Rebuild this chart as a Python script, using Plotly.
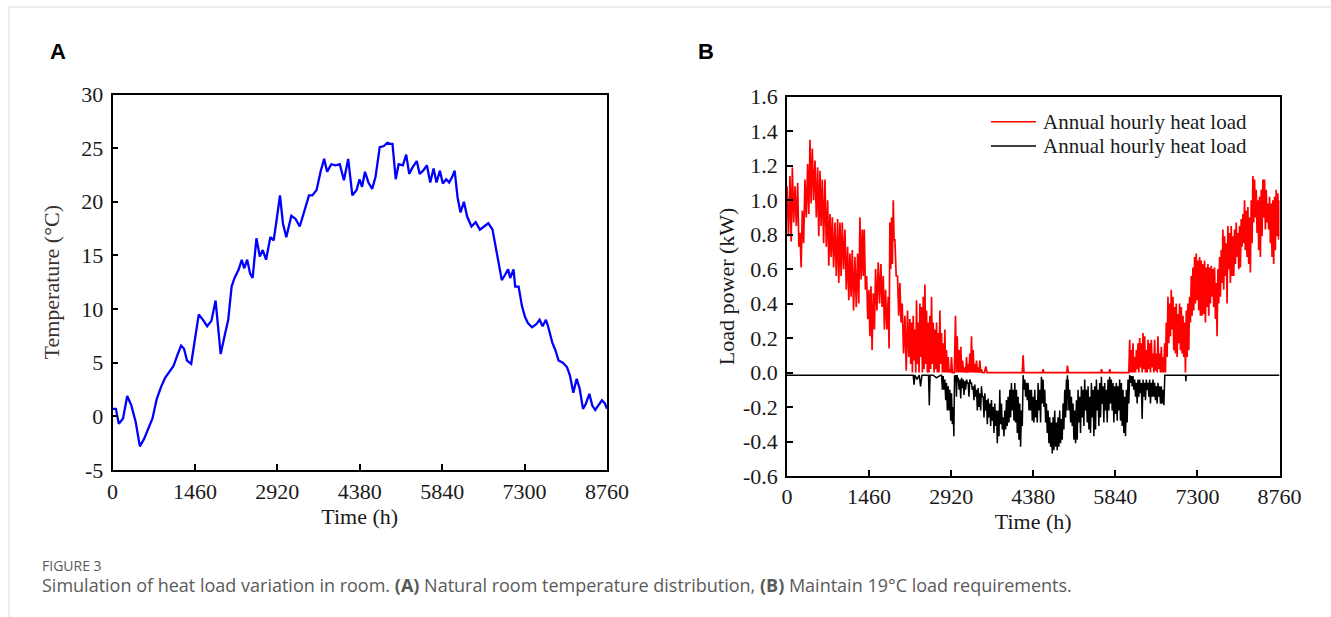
import plotly.graph_objects as go

W, H = 1331, 617

# ---------------- data: panel A (natural room temperature, °C) ----------------
time_ticks = [0, 1460, 2920, 4380, 5840, 7300, 8760]

temp_t = [0, 60, 112, 186, 261, 335, 410, 485, 559, 634,
          708, 783, 857, 932, 1006, 1081, 1156, 1215, 1267, 1320,
          1394, 1454, 1528, 1603, 1677, 1752, 1826, 1864, 1916, 1990,
          2050, 2110, 2162, 2237, 2289, 2333, 2386, 2438, 2482, 2550,
          2609, 2661, 2721, 2796, 2855, 2907, 2967, 3019, 3079, 3168,
          3243, 3317, 3392, 3481, 3541, 3615, 3690, 3750, 3802, 3877,
          3951, 4026, 4100, 4175, 4249, 4324, 4376, 4421, 4473, 4533,
          4600, 4659, 4734, 4808, 4868, 4920, 4960, 5017, 5069, 5144,
          5203, 5256, 5315, 5390, 5442, 5502, 5569, 5629, 5688, 5740,
          5800, 5852, 5912, 5964, 6016, 6061, 6113, 6165, 6225, 6284,
          6359, 6434, 6508, 6583, 6657, 6732, 6784, 6836, 6896, 6955,
          7008, 7045, 7104, 7134, 7194, 7253, 7305, 7358, 7432, 7507,
          7566, 7619, 7678, 7716, 7790, 7850, 7902, 7977, 8051, 8104,
          8163, 8223, 8275, 8335, 8387, 8447, 8499, 8551, 8611, 8670,
          8723, 8760]
temp_v = [0.7, 0.7, -0.7, -0.2, 1.9, 1.0, -0.5, -2.8, -2.1, -1.1,
          -0.2, 1.6, 2.7, 3.6, 4.1, 4.7, 5.8, 6.6, 6.3, 5.2,
          4.9, 6.9, 9.5, 9.0, 8.4, 8.9, 10.8, 8.7, 5.8, 7.6,
          9.0, 12.1, 12.9, 13.7, 14.6, 13.8, 14.6, 13.3, 12.9, 16.6,
          14.9, 15.5, 14.6, 16.7, 16.4, 18.3, 20.6, 18.0, 16.7, 18.7,
          18.4, 17.7, 19.0, 20.6, 20.6, 21.1, 22.9, 24.0, 22.8, 23.5,
          23.4, 23.5, 22.0, 24.0, 20.6, 21.1, 22.1, 21.4, 22.8, 21.8,
          21.2, 22.3, 25.1, 25.2, 25.5, 25.4, 25.4, 22.1, 23.5, 23.4,
          24.4, 22.6, 23.2, 23.8, 22.6, 22.9, 23.4, 21.8, 23.1, 21.8,
          22.9, 21.7, 22.1, 21.8, 22.3, 22.9, 20.4, 19.0, 20.0, 18.6,
          17.7, 18.1, 17.4, 17.7, 18.0, 17.4, 15.8, 14.3, 12.7, 13.2,
          13.7, 12.9, 13.7, 12.1, 12.1, 10.3, 9.3, 8.7, 8.3, 8.6,
          9.0, 8.4, 9.0, 8.4, 6.9, 6.1, 5.2, 5.0, 4.6, 3.8,
          2.2, 3.5, 2.6, 0.7, 1.2, 2.1, 1.0, 0.6, 1.0, 1.5,
          1.2, 0.7]

# ---------------- data: panel B (heating load, kW) — peak / trough of the hourly swing ----------------
red_t = [0, 53, 95, 142, 190, 231, 272, 320, 367, 409,
         450, 498, 545, 586, 628, 675, 723, 764, 806, 853,
         900, 942, 983, 1031, 1078, 1120, 1161, 1208, 1256, 1297,
         1339, 1374, 1416, 1457, 1493, 1534, 1576, 1623, 1670, 1712,
         1753, 1801, 1830, 1860, 1890, 1919, 1966, 2008, 2049, 2097,
         2144, 2186,
         2216, 2245, 2275, 2304, 2334, 2364, 2393, 2423, 2453, 2482,
         2512, 2541, 2571, 2601, 2630, 2660, 2689, 2719, 2749, 2778,
         2808, 2837, 2867, 2897, 2926, 2956, 2997, 3027, 3063, 3092,
         3122, 3163, 3193, 3222, 3252, 3282, 3311, 3341, 3371, 3400,
         3430, 3459, 3489, 3536,
         3580, 4170, 4200, 4230, 4540, 4555, 4570, 4970, 4987, 5005,
         5575, 5592, 5610, 5725, 5740, 5755, 6065,
         6095, 6125, 6154, 6184, 6214, 6243, 6273, 6302, 6332, 6362,
         6391, 6421, 6450, 6480, 6510, 6539, 6569, 6598, 6628, 6658,
         6687, 6717, 6746, 6776, 6806, 6835, 6865, 6895, 6924, 6954,
         6983, 7013, 7043, 7072, 7102, 7131, 7161, 7191, 7220, 7250,
         7279, 7309, 7339, 7368, 7398, 7428, 7457, 7487, 7516, 7546,
         7576, 7605, 7635, 7665, 7694, 7724, 7753, 7783, 7813, 7842,
         7872, 7901, 7931, 7961, 7990, 8020, 8050, 8079, 8109, 8138,
         8168, 8198, 8227, 8257, 8287, 8316, 8346, 8376, 8405, 8435,
         8464, 8494, 8524, 8553, 8583, 8613, 8642, 8672, 8701, 8731,
         8760]
red_hi = [1.08, 1.14, 1.19, 1.08, 1.10, 0.81, 0.94, 1.12, 1.21, 1.35,
          1.30, 1.23, 1.19, 1.17, 1.12, 1.12, 1.00, 0.92, 0.90, 0.87,
          0.89, 0.87, 0.87, 0.83, 0.73, 0.69, 0.71, 0.67, 0.69, 0.90,
          0.83, 0.83, 0.56, 0.48, 0.50, 0.46, 0.60, 0.64, 0.63, 0.56,
          0.48, 0.44, 0.87, 0.90, 1.00, 0.77, 0.56, 0.52, 0.40, 0.33,
          0.36, 0.31,
          0.29, 0.33, 0.25, 0.42, 0.29, 0.40, 0.38, 0.44, 0.51, 0.36,
          0.29, 0.33, 0.44, 0.29, 0.25, 0.29, 0.23, 0.36, 0.23, 0.17,
          0.25, 0.13, 0.09, 0.02, 0.09, 0.0, 0.33, 0.21, 0.13, 0.15,
          0.07, 0.03, 0.09, 0.05, 0.11, 0.21, 0.13, 0.05, 0.07, 0.03,
          0.07, 0.02, 0.0, 0.035,
          0, 0, 0.10, 0, 0, 0.02, 0, 0, 0.04, 0,
          0, 0.02, 0, 0, 0.02, 0, 0,
          0.19, 0.13, 0.17, 0.09, 0.13, 0.17, 0.20, 0.17, 0.23, 0.21,
          0.13, 0.19, 0.17, 0.19, 0.11, 0.19, 0.11, 0.21, 0.11, 0.15,
          0.09, 0.17, 0.29, 0.44, 0.40, 0.48, 0.44, 0.38, 0.40, 0.34,
          0.40, 0.38, 0.33, 0.29, 0.36, 0.40, 0.44, 0.56, 0.61, 0.67,
          0.69, 0.65, 0.67, 0.65, 0.63, 0.65, 0.61, 0.63, 0.61, 0.62,
          0.60, 0.61, 0.52, 0.60, 0.67, 0.71, 0.83, 0.79, 0.75, 0.85,
          0.81, 0.85, 0.79, 0.83, 0.87, 0.81, 0.85, 0.89, 0.92, 1.00,
          0.94, 0.96, 0.90, 1.00, 1.14, 1.12, 1.06, 1.00, 1.02, 1.06,
          1.12, 1.12, 1.06, 0.98, 1.02, 0.98, 1.00, 1.02, 1.06, 1.04,
          1.00]
red_lo = [0.79, 0.76, 0.87, 0.85, 0.73, 0.61, 0.75, 0.90, 0.92, 0.98,
          1.00, 0.90, 0.79, 0.85, 0.75, 0.73, 0.62, 0.67, 0.61, 0.56,
          0.52, 0.56, 0.60, 0.48, 0.42, 0.44, 0.36, 0.38, 0.40, 0.54,
          0.56, 0.48, 0.31, 0.21, 0.13, 0.25, 0.36, 0.40, 0.38, 0.25,
          0.25, 0.14, 0.60, 0.63, 0.77, 0.56, 0.33, 0.29, 0.11, 0.01,
          0.09, 0.05,
          0, 0.07, 0, 0.05, 0, 0.09, 0, 0.02, 0.05, 0,
          0, 0.02, 0.05, 0, 0.02, 0, 0, 0.05, 0, 0,
          0, 0, 0, 0, 0, 0, 0, 0, 0, 0,
          0, 0, 0, 0, 0, 0, 0, 0, 0, 0,
          0, 0, 0, 0,
          0, 0, 0, 0, 0, 0, 0, 0, 0, 0,
          0, 0, 0, 0, 0, 0, 0,
          0, 0, 0, 0, 0.02, 0, 0.03, 0, 0.02, 0,
          0, 0.02, 0, 0.03, 0, 0.01, 0, 0.02, 0, 0,
          0, 0, 0.09, 0.17, 0.21, 0.25, 0.13, 0.11, 0.09, 0.17,
          0.13, 0.11, 0.09, 0.0, 0.09, 0.13, 0.29, 0.33, 0.36, 0.40,
          0.42, 0.36, 0.33, 0.33, 0.34, 0.29, 0.38, 0.33, 0.40, 0.44,
          0.38, 0.31, 0.21, 0.40, 0.44, 0.52, 0.48, 0.56, 0.40, 0.60,
          0.52, 0.56, 0.56, 0.63, 0.67, 0.60, 0.61, 0.73, 0.75, 0.71,
          0.67, 0.63, 0.58, 0.75, 0.87, 0.90, 0.81, 0.71, 0.67, 0.79,
          0.90, 0.83, 0.87, 0.83, 0.75, 0.67, 0.63, 0.71, 0.79, 0.77,
          0.79]

# cooling side (black): upper (closest to zero) and lower extreme of the hourly swing
blk_t = [0, 2200, 2245, 2275, 2352, 2400, 2490, 2517, 2545, 2600,
         2720, 2749, 2778, 2808, 2837, 2867, 2897, 2926, 2956, 2980,
         3003, 3025, 3045, 3075, 3105, 3134, 3163, 3193, 3222, 3252,
         3282, 3311, 3341, 3371, 3400, 3430, 3459, 3489, 3519, 3548,
         3578, 3608, 3637, 3667, 3696, 3726, 3756, 3785, 3815, 3844,
         3874, 3903, 3933, 3963, 3992, 4022, 4052, 4081, 4111, 4140,
         4170, 4200, 4230, 4259, 4289, 4318, 4348, 4378, 4407, 4437,
         4466, 4496, 4525, 4555, 4585, 4614, 4644, 4673, 4703, 4733,
         4762, 4792, 4821, 4851, 4881, 4910, 4940, 4970, 4987, 5000,
         5029, 5059, 5088, 5118, 5148, 5177, 5207, 5236, 5266, 5295,
         5325, 5355, 5384, 5414, 5444, 5473, 5503, 5532, 5562, 5592,
         5621, 5651, 5681, 5710, 5740, 5769, 5799, 5829, 5858, 5888,
         5917, 5947, 5977, 6006, 6036, 6065, 6095, 6125, 6154, 6184,
         6214, 6243, 6273, 6302, 6332, 6362, 6391, 6421, 6450, 6480,
         6510, 6539, 6569, 6598, 6628, 6658, 6687, 6720, 7080, 7090,
         7100, 8760]
blk_hi = [-0.015, -0.015, -0.015, -0.015, -0.015, -0.015, -0.015, -0.015, -0.015, -0.015,
          -0.015, -0.015, -0.02, -0.04, -0.06, -0.08, -0.10, -0.12, -0.20, -0.015,
          -0.015, -0.015, -0.03, -0.04, -0.03, -0.04, -0.05, -0.04, -0.06, -0.04,
          -0.06, -0.08, -0.07, -0.10, -0.09, -0.12, -0.08, -0.14, -0.12, -0.16,
          -0.15, -0.18, -0.16, -0.20, -0.18, -0.22, -0.22, -0.10, -0.18, -0.26,
          -0.22, -0.16, -0.14, -0.10, -0.06, -0.10, -0.06, -0.10, -0.14, -0.18,
          -0.22, -0.015, -0.04, -0.06, -0.06, -0.10, -0.10, -0.14, -0.10, -0.16,
          -0.06, -0.10, -0.025, -0.04, -0.10, -0.18, -0.22, -0.26, -0.29, -0.26,
          -0.22, -0.29, -0.26, -0.22, -0.27, -0.18, -0.10, -0.04, -0.015, -0.04,
          -0.10, -0.14, -0.18, -0.22, -0.16, -0.10, -0.14, -0.08, -0.10, -0.04,
          -0.10, -0.08, -0.14, -0.06, -0.10, -0.08, -0.04, -0.10, -0.06, -0.025,
          -0.08, -0.06, -0.10, -0.04, -0.025, -0.04, -0.06, -0.08, -0.06, -0.08,
          -0.04, -0.06, -0.10, -0.14, -0.10, -0.04, -0.015, -0.02, -0.02, -0.04,
          -0.06, -0.04, -0.04, -0.06, -0.04, -0.06, -0.04, -0.06, -0.04, -0.06,
          -0.04, -0.06, -0.08, -0.06, -0.08, -0.08, -0.10, -0.015, -0.015, -0.015,
          -0.015, -0.015]
blk_lo = [-0.015, -0.015, -0.07, -0.04, -0.08, -0.015, -0.015, -0.19, -0.015, -0.03,
          -0.015, -0.10, -0.10, -0.16, -0.22, -0.22, -0.28, -0.30, -0.37, -0.04,
          -0.14, -0.04, -0.10, -0.15, -0.09, -0.13, -0.10, -0.06, -0.14, -0.06,
          -0.10, -0.16, -0.14, -0.22, -0.20, -0.22, -0.14, -0.26, -0.22, -0.30,
          -0.26, -0.31, -0.28, -0.35, -0.31, -0.41, -0.37, -0.30, -0.33, -0.37,
          -0.33, -0.31, -0.29, -0.26, -0.22, -0.28, -0.29, -0.35, -0.39, -0.43,
          -0.31, -0.10, -0.14, -0.16, -0.22, -0.22, -0.28, -0.29, -0.26, -0.29,
          -0.22, -0.29, -0.18, -0.20, -0.29, -0.35, -0.41, -0.43, -0.47, -0.45,
          -0.43, -0.45, -0.43, -0.41, -0.39, -0.33, -0.26, -0.22, -0.14, -0.22,
          -0.29, -0.31, -0.39, -0.41, -0.39, -0.29, -0.35, -0.26, -0.31, -0.22,
          -0.29, -0.33, -0.35, -0.26, -0.37, -0.33, -0.22, -0.31, -0.26, -0.18,
          -0.29, -0.22, -0.29, -0.22, -0.18, -0.22, -0.29, -0.24, -0.28, -0.22,
          -0.28, -0.31, -0.35, -0.37, -0.29, -0.18, -0.06, -0.08, -0.10, -0.14,
          -0.18, -0.14, -0.12, -0.27, -0.14, -0.16, -0.10, -0.14, -0.18, -0.14,
          -0.14, -0.16, -0.18, -0.14, -0.18, -0.18, -0.19, -0.015, -0.015, -0.05,
          -0.015, -0.015]

load_ticks = [-0.6, -0.4, -0.2, 0.0, 0.2, 0.4, 0.6, 0.8, 1.0, 1.2, 1.4, 1.6]
load_tick_text = ["-0.6", "-0.4", "-0.2", "0.0", "0.2", "0.4", "0.6", "0.8", "1.0", "1.2", "1.4", "1.6"]
temp_ticks = [-5, 0, 5, 10, 15, 20, 25, 30]
temp_tick_text = ["-5", "0", "5", "10", "15", "20", "25", "30"]

legend_names = ["Annual hourly heat load", "Annual hourly heat load"]

assert len(temp_t) == len(temp_v)
assert len(red_t) == len(red_hi) == len(red_lo)
assert len(blk_t) == len(blk_hi) == len(blk_lo)


def swing(t, hi, lo):
    """Trace the hourly swing: peak at each reading, trough half-way to the next."""
    xs, ys = [], []
    for i in range(len(t)):
        xs.append(t[i]); ys.append(hi[i])
        nxt = t[i + 1] if i + 1 < len(t) else t[i]
        xs.append((t[i] + nxt) / 2); ys.append(lo[i])
    return xs, ys


SERIF = "Liberation Serif"
TXT = "#1a1a1a"

fig = go.Figure()
fig.add_trace(go.Scatter(x=temp_t, y=temp_v, mode="lines", name="Temperature",
                         line=dict(color="#0000ff", width=2.3), xaxis="x", yaxis="y",
                         showlegend=False))
rx, ry = swing(red_t, red_hi, red_lo)
fig.add_trace(go.Scatter(x=rx, y=ry, mode="lines", name=legend_names[0],
                         line=dict(color="#ff0000", width=1.7), xaxis="x2", yaxis="y2",
                         showlegend=False))
bx, by = swing(blk_t, blk_hi, blk_lo)
fig.add_trace(go.Scatter(x=bx, y=by, mode="lines", name=legend_names[1],
                         line=dict(color="#000000", width=1.5), xaxis="x2", yaxis="y2",
                         showlegend=False))

axis_common = dict(showline=True, mirror=True, linecolor="#000000", linewidth=1.5,
                   ticks="inside", ticklen=6, tickwidth=1.5, tickcolor="#000000",
                   showgrid=False, zeroline=False,
                   tickfont=dict(family=SERIF, size=22, color=TXT))

A_L, A_R, A_T, A_B = 112.5, 607, 94.5, 470
B_L, B_R, B_T, B_B = 787, 1279.5, 96.7, 476

fig.update_layout(
    width=W, height=H, template="none",
    paper_bgcolor="white", plot_bgcolor="white",
    margin=dict(l=0, r=0, t=0, b=0),
    showlegend=False,
    xaxis=dict(axis_common, domain=[A_L / W, A_R / W], range=[0, 8760],
               tickvals=time_ticks, ticklabelstandoff=1, anchor="y",
               title=dict(text="Time (h)", font=dict(family=SERIF, size=22, color=TXT), standoff=4)),
    yaxis=dict(axis_common, domain=[1 - A_B / H, 1 - A_T / H], range=[-5, 30],
               tickvals=temp_ticks, ticktext=temp_tick_text, ticklabelstandoff=3, anchor="x",
               title=dict(text="Temperature (°C)", font=dict(family=SERIF, size=22, color="#3a3030"), standoff=16)),
    xaxis2=dict(axis_common, domain=[B_L / W, B_R / W], range=[0, 8760],
                tickvals=time_ticks, ticklabelstandoff=0, anchor="y2",
                title=dict(text="Time (h)", font=dict(family=SERIF, size=22, color=TXT), standoff=2)),
    yaxis2=dict(axis_common, domain=[1 - B_B / H, 1 - B_T / H], range=[-0.6, 1.6],
                tickvals=load_ticks, ticktext=load_tick_text, ticklabelstandoff=3, anchor="x2",
                title=dict(text="Load power (kW)", font=dict(family=SERIF, size=22, color=TXT), standoff=2)),
)

# manual legend inside panel B
leg_rows = [(121.7, "#ff0000"), (146.0, "#000000")]
for (yy, col), name in zip(leg_rows, legend_names):
    fig.add_shape(type="line", xref="paper", yref="paper",
                  x0=991 / W, x1=1036 / W, y0=1 - yy / H, y1=1 - yy / H,
                  line=dict(color=col, width=1.5))
    fig.add_annotation(x=1041 / W, y=1 - yy / H, xref="paper", yref="paper",
                       text=name, showarrow=False, xanchor="left", yanchor="middle",
                       font=dict(family=SERIF, size=21, color=TXT))

# panel letters
for lx, letter in [(58, "A"), (706, "B")]:
    fig.add_annotation(x=lx / W, y=1 - 51 / H, xref="paper", yref="paper",
                       text=f"<b>{letter}</b>", showarrow=False, xanchor="center", yanchor="middle",
                       font=dict(family="Liberation Sans", size=22, color="#000000"))

# caption
fig.add_annotation(x=40 / W, y=1 - 565 / H, xref="paper", yref="paper", text="FIGURE 3",
                   showarrow=False, xanchor="left", yanchor="middle",
                   font=dict(family="Open Sans", size=14, color="#5a5a5a"))
fig.add_annotation(x=40 / W, y=1 - 585 / H, xref="paper", yref="paper",
                   text="Simulation of heat load variation in room. <b>(A)</b> Natural room temperature "
                        "distribution, <b>(B)</b> Maintain 19°C load requirements.",
                   showarrow=False, xanchor="left", yanchor="middle",
                   font=dict(family="Open Sans", size=18, color="#5a5a5a"))

# page frame lines
fig.add_shape(type="line", xref="paper", yref="paper", x0=9 / W, x1=1, y0=1 - 7 / H, y1=1 - 7 / H,
              line=dict(color="#d9d9d9", width=1))
fig.add_shape(type="line", xref="paper", yref="paper", x0=9 / W, x1=9 / W, y0=0, y1=1 - 7 / H,
              line=dict(color="#d9d9d9", width=1))

fig.write_html("out.html", config={"displayModeBar": False},
               post_script="document.body.style.margin='0';document.body.style.overflow='hidden';")
